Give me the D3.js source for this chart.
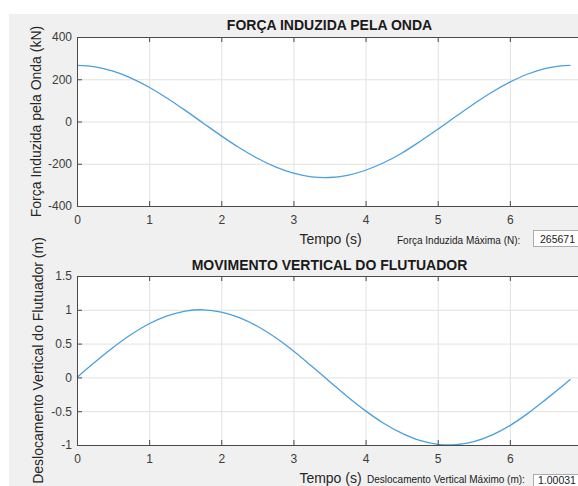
<!DOCTYPE html>
<html>
<head>
<meta charset="utf-8">
<script src="https://cdn.jsdelivr.net/npm/d3@7/dist/d3.min.js"></script>
<style>
    html, body { margin: 0; padding: 0; background: #ffffff; }
    svg { display: block; font-family: "Liberation Sans", Arial, Helvetica, sans-serif; }
    .grid line { stroke: #e2e2e2; }
    .grid path { display: none; }
    .axis path, .axis line { stroke: #4a4a4a; }
    .axis text { fill: #3c3c3c; font-size: 12px; }
</style>
</head>
<body>
<svg width="578" height="486"></svg>
<script>
    // time samples (s)
    var timeS = [0, 0.25, 0.5, 0.75, 1, 1.25, 1.5, 1.75, 2, 2.25, 2.5, 2.75, 3, 3.25, 3.5,
        3.75, 4, 4.25, 4.5, 4.75, 5, 5.25, 5.5, 5.75, 6, 6.25, 6.5, 6.75, 6.84];

    // wave induced force (kN)
    var forceKN = [265.7, 258.8, 238.4, 205.6, 162.1, 110.1, 52.5, -7.9, -67.9, -124.3, -174.0,
        -214.7, -244.6, -261.8, -265.1, -254.6, -230.8, -195.4, -150.1, -95.5, -37.1, 23.6,
        82.9, 138.4, 186.2, 224.9, 251.3, 264.1, 265.6];

    // vertical displacement of the float (m)
    var displacementM = [0, 0.227, 0.442, 0.634, 0.793, 0.910, 0.981, 1.000, 0.967, 0.884, 0.756,
        0.589, 0.390, 0.169, -0.059, -0.286, -0.495, -0.678, -0.825, -0.933, -0.990, -0.996,
        -0.950, -0.854, -0.713, -0.532, -0.325, -0.109, -0.028];

    var xTicks = [0, 1, 2, 3, 4, 5, 6];
    var forceTicks = [-400, -200, 0, 200, 400];
    var displacementTicks = [-1, -0.5, 0, 0.5, 1, 1.5];

    var maxForceLabel = "Força Induzida Máxima (N):";
    var maxForceValue = "265671";
    var maxDisplacementLabel = "Deslocamento Vertical Máximo (m):";
    var maxDisplacementValue = "1.00031";

    var svg = d3.select("svg");

    svg.append("rect")
        .attr("x", 9).attr("y", 14)
        .attr("width", 569).attr("height", 472)
        .attr("fill", "#f0f0f0");

    var left = 77, right = 582;

    function plainNumber(d) { return String(d); }

    function drawPanel(cfg) {
        var xScale = d3.scaleLinear().domain([0, 7]).range([left, right]);
        var yScale = d3.scaleLinear().domain(cfg.yDomain).range([cfg.bottom, cfg.top]);
        var width = right - left;
        var height = cfg.bottom - cfg.top;

        svg.append("rect")
            .attr("x", left).attr("y", cfg.top)
            .attr("width", width).attr("height", height)
            .attr("fill", "#ffffff");

        // grid
        svg.append("g")
            .attr("class", "grid")
            .attr("transform", "translate(0," + cfg.bottom + ")")
            .call(d3.axisBottom(xScale).tickValues(xTicks).tickSize(-height).tickFormat(""));

        svg.append("g")
            .attr("class", "grid")
            .attr("transform", "translate(" + left + ",0)")
            .call(d3.axisLeft(yScale).tickValues(cfg.yTicks).tickSize(-width).tickFormat(""));

        var line = d3.line()
            .x(function (d, i) { return xScale(timeS[i]); })
            .y(function (d) { return yScale(d); })
            .curve(d3.curveCatmullRom);

        svg.append("path")
            .datum(cfg.values)
            .attr("fill", "none")
            .attr("stroke", "#4aa0dc")
            .attr("stroke-width", 1.3)
            .attr("d", line);

        // axes, ticks pointing inward like the original
        svg.append("g")
            .attr("class", "axis")
            .attr("transform", "translate(0," + cfg.bottom + ")")
            .call(d3.axisBottom(xScale).tickValues(xTicks).tickSizeInner(-5).tickSizeOuter(0).tickPadding(9)
                .tickFormat(plainNumber));

        svg.append("g")
            .attr("class", "axis")
            .attr("transform", "translate(0," + cfg.top + ")")
            .call(d3.axisTop(xScale).tickValues(xTicks).tickSizeInner(-5).tickSizeOuter(0).tickFormat(""));

        svg.append("g")
            .attr("class", "axis")
            .attr("transform", "translate(" + left + ",0)")
            .call(d3.axisLeft(yScale).tickValues(cfg.yTicks).tickSizeInner(-5).tickSizeOuter(0).tickPadding(5)
                .tickFormat(plainNumber));

        svg.append("text")
            .attr("x", (left + right) / 2)
            .attr("y", cfg.titleY)
            .attr("text-anchor", "middle")
            .attr("font-size", 14)
            .attr("font-weight", "bold")
            .attr("fill", "#1a1a1a")
            .text(cfg.title);

        svg.append("text")
            .attr("x", (left + right) / 2 + 1)
            .attr("y", cfg.xLabelY)
            .attr("text-anchor", "middle")
            .attr("font-size", 14)
            .attr("fill", "#262626")
            .text("Tempo (s)");

        svg.append("text")
            .attr("transform", "translate(" + cfg.yLabelX + "," + (cfg.top + cfg.bottom) / 2 + ") rotate(-90)")
            .attr("text-anchor", "middle")
            .attr("font-size", 14)
            .attr("fill", "#262626")
            .text(cfg.yLabel);

        svg.append("text")
            .attr("x", cfg.infoX)
            .attr("y", cfg.infoY)
            .attr("font-size", 10)
            .attr("fill", "#1a1a1a")
            .text(cfg.infoLabel);

        svg.append("rect")
            .attr("x", 533.5).attr("y", cfg.boxY + 0.5)
            .attr("width", 60).attr("height", 16)
            .attr("fill", "#ffffff")
            .attr("stroke", "#acacac");

        svg.append("text")
            .attr("x", cfg.valueX)
            .attr("y", cfg.valueY)
            .attr("font-size", 10.5)
            .attr("fill", "#1a1a1a")
            .text(cfg.infoValue);
    }

    drawPanel({
        top: 37, bottom: 206,
        yDomain: [-400, 400], yTicks: forceTicks, values: forceKN,
        title: "FORÇA INDUZIDA PELA ONDA", titleY: 29.5,
        xLabelY: 244, yLabel: "Força Induzida pela Onda (kN)", yLabelX: 41,
        infoLabel: maxForceLabel, infoValue: maxForceValue, infoX: 397, infoY: 244,
        boxY: 230, valueX: 540, valueY: 243
    });

    drawPanel({
        top: 276, bottom: 445,
        yDomain: [-1, 1.5], yTicks: displacementTicks, values: displacementM,
        title: "MOVIMENTO VERTICAL DO FLUTUADOR", titleY: 270,
        xLabelY: 483, yLabel: "Deslocamento Vertical do Flutuador (m)", yLabelX: 43,
        infoLabel: maxDisplacementLabel, infoValue: maxDisplacementValue, infoX: 367, infoY: 483,
        boxY: 474, valueX: 538, valueY: 484
    });
</script>
</body>
</html>
